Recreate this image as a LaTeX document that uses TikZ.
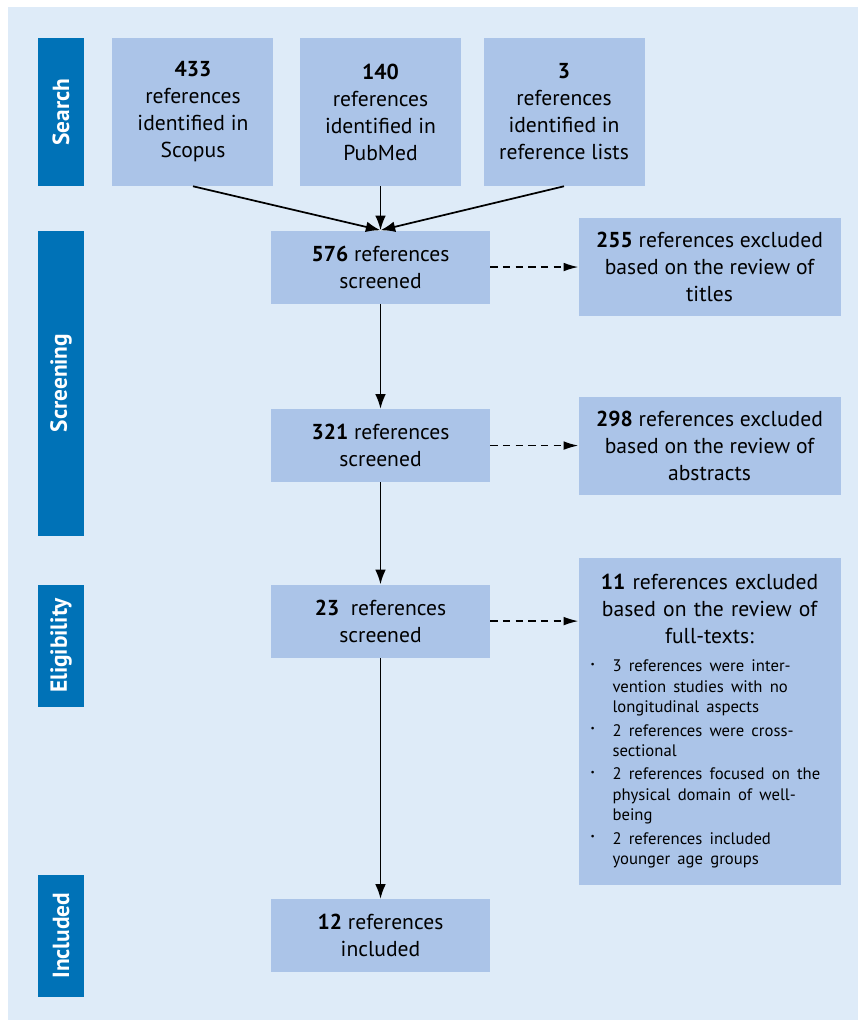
\documentclass[tikz,border=0pt]{standalone}
\usepackage{fontspec}
\setmainfont{PT Sans}
\usetikzlibrary{arrows.meta, positioning}

\definecolor{panelbg}{RGB}{222,235,248}
\definecolor{boxfill}{RGB}{171,196,232}
\definecolor{phaseblue}{RGB}{0,114,183}

\newcommand{\exitem}[1]{\par\vspace{2pt}\hangindent=19.5pt\hangafter=1
  \makebox[19.5pt][l]{\hspace{3pt}\raisebox{3.5pt}{\scriptsize\textbullet}}#1}

\begin{document}
\begin{tikzpicture}[
  src/.style={fill=boxfill, minimum width=120.75pt, minimum height=111pt,
              align=center, inner sep=0pt, font=\fontsize{16.2}{20.25}\selectfont},
  main/.style={src, minimum width=164.25pt, minimum height=54.75pt},
  excl/.style={src, minimum width=196.5pt, minimum height=73.5pt},
  phase/.style={fill=phaseblue, text=white, rotate=90, minimum height=34.5pt,
                inner sep=0pt, font=\fontsize{17.5}{20}\selectfont\bfseries},
  arr/.style={-{Latex[length=11pt, width=8pt]}, line width=1.3pt},
  darr/.style={-{Latex[length=11pt, width=6.5pt]}, line width=1pt,
               dash pattern=on 5.5pt off 4pt},
]
\useasboundingbox (0,0) rectangle (643.5pt,-765pt);
\fill[panelbg] (6pt,-5.25pt) rectangle (643.5pt,-765pt);

%% Search
\node[src] (s2) at (285.375pt,-84pt) {\textbf{140}\\references\\identified in\\PubMed};
\node[src, left=19.5pt of s2] (s1) {\textbf{433}\\references\\identified in\\Scopus};
\node[src, right=16.5pt of s2] (s3) {\textbf{3}\\references\\identified in\\reference lists};

%% Main column
\node[main, below=33pt of s2] (m1) {\textbf{576} references\\screened};
\node[main, below=78.75pt of m1] (m2) {\textbf{321} references\\screened};
\node[main, below=76.5pt of m2] (m3) {\textbf{23}\ \ references\\screened};
\node[main, below=180.75pt of m3] (m4) {\textbf{12} references\\included};

%% Exclusions
\node[excl, right=66pt of m1] (x1) {\textbf{255} references excluded\\based on the review of\\titles};
\node[excl, right=66pt of m2] (x2) {\textbf{298} references excluded\\based on the review of\\abstracts};
\node[excl, text width=184.5pt, minimum height=245.25pt, anchor=north west]
  (x3) at ([xshift=66pt, yshift=20.25pt] m3.north east) {
  \textbf{11} references excluded\\based on the review of\\full-texts:\par
  \vspace{4pt}\raggedright\fontsize{12.5}{15.4}\selectfont
  \exitem{3 references were inter-\newline vention studies with no\newline longitudinal aspects}
  \exitem{2 references were cross-\newline sectional}
  \exitem{2 references focused on the\newline physical domain of well-\newline being}
  \exitem{2 references included\newline younger age groups}\par
};

%% Phases
\node[phase, minimum width=111pt] (pS) at (45.75pt,-84pt) {Search};
\node[phase, minimum width=228.75pt, anchor=east] (pSc) at (pS |- m1.north) {Screening};
\node[phase, minimum width=91.5pt, anchor=east] (pE) at (pS |- m3.north) {Eligibility};
\node[phase, minimum width=91.5pt] (pI) at (pS |- m4) {Included};

%% Flow
\draw[arr] (s1.south) -- (m1.north);
\draw[arr] (s2.south) -- (m1.north);
\draw[arr] (s3.south) -- (m1.north);
\draw[arr] (m1) -- (m2);
\draw[arr] (m2) -- (m3);
\draw[arr] (m3) -- (m4);
\draw[darr] (m1.east) -- (m1.east -| x1.west);
\draw[darr] (m2.east) -- (m2.east -| x2.west);
\draw[darr] (m3.east) -- (m3.east -| x3.west);
\end{tikzpicture}
\end{document}
